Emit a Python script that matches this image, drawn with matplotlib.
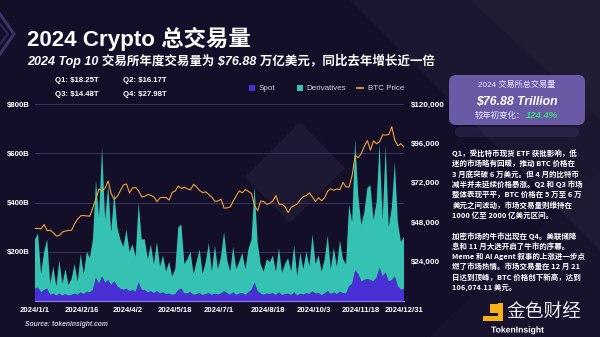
import matplotlib
matplotlib.use("Agg")
import matplotlib.pyplot as plt
import matplotlib.patheffects as pe
from matplotlib.patches import FancyBboxPatch, Polygon, Rectangle
import pandas as pd

LATIN = "Liberation Sans"
CJK = "Noto Sans CJK SC"
MIXED = [LATIN, CJK]

BG = "#130f29"
SPOT_C = "#4b2fd6"
DERIV_C = "#35c2b2"
PRICE_C = "#f2a23c"
GRID_C = "#3a3458"
BOX_C = "#6a5aa6"

# daily volume sampled every ~3 days through 2024, in $B
spot = [50, 55, 35, 45, 50, 25, 30, 22, 30, 22, 28, 22, 25, 30, 25, 35, 28, 38, 35, 45,
        95, 70, 100, 75, 85, 65, 80, 60, 50, 45, 50, 40, 45, 38, 75, 45, 45, 35, 40, 32,
        40, 30, 35, 28, 30, 25, 28, 45, 50, 30, 32, 35, 25, 28, 32, 24, 28, 32, 24, 30,
        26, 30, 40, 32, 25, 35, 25, 30, 32, 25, 35, 45, 75, 40, 30, 25, 30, 28, 32, 24,
        35, 24, 28, 30, 24, 35, 22, 30, 26, 32, 28, 40, 30, 32, 24, 30, 40, 28, 35, 28,
        38, 32, 30, 60, 70, 125, 110, 80, 85, 90, 85, 80, 95, 135, 100, 115, 80, 85, 100, 60,
        45, 50]
derivatives = [200, 220, 75, 155, 200, 45, 110, 38, 135, 48, 102, 43, 65, 120, 55, 155, 82, 162, 140, 205,
               395, 270, 525, 255, 385, 215, 360, 240, 200, 175, 240, 160, 185, 142, 325, 205, 205, 135, 190, 118,
               200, 110, 150, 92, 130, 75, 102, 255, 260, 120, 138, 165, 85, 132, 178, 86, 132, 203, 96, 195,
               104, 150, 240, 138, 95, 185, 105, 130, 163, 105, 175, 205, 390, 200, 120, 95, 140, 130, 153, 96,
               180, 91, 122, 145, 96, 190, 78, 165, 104, 168, 112, 230, 120, 153, 96, 140, 225, 102, 180, 112,
               207, 138, 120, 330, 250, 530, 320, 230, 275, 370, 385, 250, 305, 505, 230, 515, 220, 295, 465, 260,
               195, 210]
btc_price = [44200, 44200, 43900, 46600, 42800, 43100, 41600, 39500, 40000, 42000, 42600, 43000, 43100, 47100,
             50000, 51900, 52100, 51800, 51700, 57000, 62400, 68300, 66900, 68900, 73100, 65300, 61900, 63800,
             67200, 70700, 71300, 65900, 68900, 69100, 67100, 63400, 63800, 64900, 64300, 63400, 60600, 62900,
             63100, 63000, 61500, 66200, 67000, 70100, 68500, 69300, 68300, 67700, 71100, 69300, 67300, 66000,
             66500, 64900, 63200, 60800, 60900, 62000, 56600, 56700, 57300, 60800, 64100, 67100, 65900, 67900,
             66800, 65400, 58100, 55000, 60900, 60600, 58900, 59500, 61000, 64200, 59000, 58900, 57500, 53900,
             57000, 58100, 59100, 61800, 63600, 64300, 65900, 63300, 60600, 63000, 61000, 63100, 67000, 68400,
             67400, 68200, 67900, 72300, 69500, 69400, 76500, 88700, 87300, 89800, 94300, 97700, 91900, 97500,
             95800, 97000, 101200, 101100, 101400, 106100, 97800, 94700, 95800, 93700]
dates = pd.date_range("2024-01-01", "2024-12-31", periods=len(spot))

tick_dates = ["2024-01-01", "2024-02-16", "2024-04-02", "2024-05-18", "2024-07-01",
              "2024-08-18", "2024-10-03", "2024-11-18", "2024-12-31"]
tick_labels = ["2024/1/1", "2024/2/16", "2024/4/2", "2024/5/18", "2024/7/1",
               "2024/8/18", "2024/10/3", "2024/11/18", "2024/12/31"]
vol_ticks = [200, 400, 600, 800]
vol_labels = ["$200B", "$400B", "$600B", "$800B"]
price_ticks = [24000, 48000, 72000, 96000, 120000]
price_labels = ["$24,000", "$48,000", "$72,000", "$96,000", "$120,000"]

quarters = ["Q1: $18.25T", "Q2: $16.17T", "Q3: $14.48T", "Q4: $27.98T"]

notes_q1 = ["Q1，受比特币现货 ETF 获批影响，低",
            "迷的市场略有回暖，推动 BTC 价格在",
            "3 月底突破 6 万美元。但 4 月的比特币",
            "减半并未延续价格暴涨。Q2 和 Q3 市场",
            "整体表现平平，BTC 价格在 5 万至 6 万",
            "美元之间波动，市场交易量则维持在",
            "1000 亿至 2000 亿美元区间。"]
notes_q4 = ["加密市场的牛市出现在 Q4。美联储降",
            "息和 11 月大选开启了牛市的序幕。",
            "Meme 和 AI Agent 叙事的上涨进一步点",
            "燃了市场热情。市场交易量在 12 月 21",
            "日达到顶峰，BTC 价格创下新高，达到",
            "106,074.11 美元。"]

fig = plt.figure(figsize=(6.0, 3.37), dpi=100)
fig.patch.set_facecolor(BG)

# canvas in pixel units for background shapes and free text
bg = fig.add_axes([0, 0, 1, 1])
bg.set_xlim(0, 600)
bg.set_ylim(337, 0)
bg.axis("off")

bg.add_patch(Polygon([(350, 0), (600, 0), (600, 250)], closed=True, color="white", alpha=0.035, lw=0))
bg.add_patch(Polygon([(470, 0), (600, 0), (600, 120)], closed=True, color="white", alpha=0.025, lw=0))
bg.add_patch(Polygon([(430, 337), (600, 170), (600, 337)], closed=True, color="white", alpha=0.02, lw=0))
bg.add_patch(Polygon([(245, 177), (300, 122), (345, 168), (290, 223)], closed=True,
                     color="white", alpha=0.045, lw=0))
bg.plot([0, 14, 0], [14, 34, 54], color="#3c3468", lw=2.2, solid_joinstyle="miter")
bg.plot([0, 8, 0], [24, 34, 44], color="#2c2654", lw=1.6, solid_joinstyle="miter")

bg.text(27, 39, "2024 Crypto 总交易量", family=MIXED, weight="bold", fontsize=16.1,
        color="white", va="center", ha="left")
bg.text(27, 61, "2024 Top 10 交易所年度交易量为 $76.88 万亿美元，同比去年增长近一倍",
        family=MIXED, weight="bold", style="italic", fontsize=9.0, color="white",
        va="center", ha="left")

for i, q in enumerate(quarters):
    bg.text(55 + (i % 2) * 68, 80 + (i // 2) * 14, q, family=LATIN, weight="bold",
            fontsize=5.6, color="white", va="center", ha="left")

# legend
bg.add_patch(Rectangle((249, 85), 6, 6, color=SPOT_C, lw=0))
bg.text(259, 88, "Spot", family=LATIN, fontsize=5.8, color="#d4d2e0", va="center")
bg.add_patch(Rectangle((297, 85), 6, 6, color=DERIV_C, lw=0))
bg.text(306, 88, "Derivatives", family=LATIN, fontsize=5.8, color="#d4d2e0", va="center")
bg.plot([357, 363], [88, 88], color=PRICE_C, lw=1.2)
bg.text(368, 88, "BTC Price", family=LATIN, fontsize=5.8, color="#d4d2e0", va="center")

bg.text(25, 324, "Source: tokeninsight.com", family=LATIN, weight="bold", style="italic",
        fontsize=4.9, color="#c8c6d6", va="center")

# summary box
bg.add_patch(FancyBboxPatch((455, 127), 124, 10, boxstyle="round,pad=0,rounding_size=5",
                            color=BOX_C, alpha=0.18, lw=0))
bg.add_patch(FancyBboxPatch((449, 75), 136, 50, boxstyle="round,pad=0,rounding_size=7",
                            color=BOX_C, lw=0))
bg.text(517, 85, "2024 交易所总交易量", family=MIXED, fontsize=5.9, color="#ece8ff",
        ha="center", va="center")
bg.text(517, 102, "$76.88 Trillion", family=LATIN, weight="bold", style="italic",
        fontsize=8.8, color="white", ha="center", va="center")
bg.text(525, 115, "较年初变化：", family=CJK, fontsize=6.0, color="#ece8ff",
        ha="right", va="center")
bg.text(526, 115, "124.4%", family=LATIN, weight="bold", style="italic", fontsize=6.8,
        color="#3fd67a", ha="left", va="center")

for i, line in enumerate(notes_q1):
    bg.text(452.5, 153 + i * 10.4, line, family=CJK, weight="bold", fontsize=5.4,
            color="white", va="center", ha="left")
for i, line in enumerate(notes_q4):
    bg.text(452.5, 236 + i * 10.2, line, family=CJK, weight="bold", fontsize=5.4,
            color="white", va="center", ha="left")

# watermark logo
bg.add_patch(Rectangle((490, 304), 8, 9, color="#f5b01c", lw=0))
bg.add_patch(Rectangle((498, 303), 5, 18, color="#f5b01c", lw=0))
bg.add_patch(Rectangle((483, 316), 20, 5, color="#f5b01c", lw=0))
bg.text(506, 311, "金色财经", family=CJK, fontsize=13.5, color="white", alpha=0.92,
        va="center", ha="left")
bg.text(491, 330, "TokenInsight", family=LATIN, weight="bold", fontsize=6.2, color="white",
        va="center", ha="left",
        path_effects=[pe.withStroke(linewidth=1.5, foreground="#1a1530")])

# volume chart
ax = fig.add_axes([35 / 600, 1 - 301 / 337, 369 / 600, 197 / 337])
ax.set_facecolor("none")
ax.stackplot(dates, spot, derivatives, colors=[SPOT_C, DERIV_C], linewidth=0)
ax.set_xlim(pd.Timestamp("2024-01-01"), pd.Timestamp("2024-12-31"))
ax.set_ylim(0, 800)
ax.set_yticks(vol_ticks)
ax.set_yticklabels(vol_labels)
ax.set_xticks(pd.to_datetime(tick_dates))
ax.set_xticklabels(tick_labels)
ax.grid(axis="y", color=GRID_C, lw=0.7)
ax.set_axisbelow(True)
for side in ["top", "left", "right"]:
    ax.spines[side].set_visible(False)
ax.spines["bottom"].set_color("#8576e6")
ax.spines["bottom"].set_linewidth(0.9)
ax.tick_params(axis="both", length=0, colors="white")
ax.tick_params(axis="y", pad=4)
ax.tick_params(axis="x", pad=4)
for lab in ax.get_xticklabels() + ax.get_yticklabels():
    lab.set_fontfamily(LATIN)
    lab.set_fontweight("bold")
    lab.set_fontsize(5.6)

ax2 = ax.twinx()
ax2.plot(dates, btc_price, color=PRICE_C, lw=0.8)
ax2.set_ylim(0, 120000)
ax2.set_yticks(price_ticks)
ax2.set_yticklabels(price_labels)
for side in ["top", "left", "right", "bottom"]:
    ax2.spines[side].set_visible(False)
ax2.tick_params(axis="y", length=0, colors="white", pad=5)
for lab in ax2.get_yticklabels():
    lab.set_fontfamily(LATIN)
    lab.set_fontweight("bold")
    lab.set_fontsize(5.8)

fig.savefig("out.png", dpi=100, facecolor=BG)
